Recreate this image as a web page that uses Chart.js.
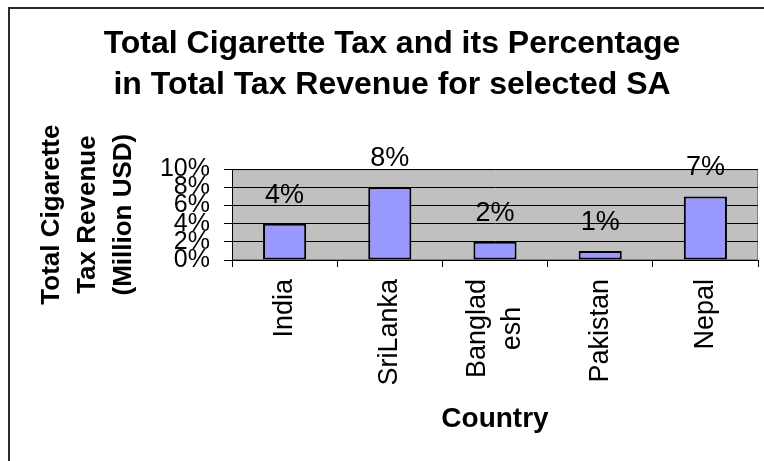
<!DOCTYPE html>
<html>
<head>
<meta charset="utf-8">
<script src="https://cdn.jsdelivr.net/npm/chart.js@4/dist/chart.umd.min.js"></script>
<style>
  html, body { margin: 0; padding: 0; background: #ffffff; overflow: hidden; }
  #wrap { position: relative; width: 764px; height: 461px; }
</style>
</head>
<body>
<div id="wrap"><canvas id="chart" width="764" height="461"></canvas></div>
<script>
// Chart data
const countries = ['India', 'SriLanka', ['Banglad', 'esh'], 'Pakistan', 'Nepal'];
const taxSharePct = [4, 8, 2, 1, 7];
const yTickValues = [0, 2, 4, 6, 8, 10];
const chartTitle = ['Total Cigarette Tax and its Percentage', 'in Total Tax Revenue for selected SA'];
const yAxisTitle = ['Total Cigarette', 'Tax Revenue', '(Million USD)'];
const xAxisTitle = 'Country';

const FONT = "'Liberation Sans', Arial, sans-serif";

// White page, outer frame and grey plot area behind the grid
const backdrop = {
  id: 'backdrop',
  beforeDraw(chart) {
    const { ctx, chartArea: a } = chart;
    ctx.save();
    ctx.fillStyle = '#ffffff';
    ctx.fillRect(0, 0, chart.width, chart.height);
    ctx.strokeStyle = '#2a2a2a';
    ctx.lineWidth = 2;
    ctx.beginPath();
    ctx.moveTo(9, chart.height);
    ctx.lineTo(9, 8);
    ctx.lineTo(chart.width, 8);
    ctx.stroke();
    ctx.fillStyle = '#c0c0c0';
    ctx.fillRect(a.left, a.top, a.right - a.left, a.bottom - a.top);
    ctx.strokeStyle = '#808080';
    ctx.lineWidth = 1;
    ctx.strokeRect(a.left + 0.5, a.top + 0.5, a.right - a.left - 1, a.bottom - a.top - 1);
    ctx.restore();
  }
};

// Two-line category labels: centre the line stack on its tick and
// centre the lines against each other
const stackedTickLabels = {
  id: 'stackedTickLabels',
  beforeDraw(chart) {
    const { ctx } = chart;
    chart.scales.x.getLabelItems().forEach(item => {
      if (!Array.isArray(item.label) || item.label.length < 2) return;
      const lh = item.font.lineHeight;
      ctx.save();
      ctx.font = item.font.string;
      const widest = Math.max(...item.label.map(s => ctx.measureText(s).width));
      ctx.restore();
      const t = item.options.translation;
      t[0] -= (item.label.length - 1) * lh / 2;
      t[1] += widest / 2;
      item.options.textAlign = 'center';
    });
  }
};

// Percentage labels above each bar
const valueLabels = {
  id: 'valueLabels',
  afterDatasetsDraw(chart) {
    const { ctx } = chart;
    const meta = chart.getDatasetMeta(0);
    ctx.save();
    ctx.font = '27px ' + FONT;
    ctx.fillStyle = '#000000';
    ctx.textAlign = 'center';
    ctx.textBaseline = 'alphabetic';
    meta.data.forEach((bar, i) => {
      ctx.fillText(chart.data.datasets[0].data[i] + '%', bar.x, bar.y - 21);
    });
    ctx.restore();
  }
};

new Chart(document.getElementById('chart'), {
  type: 'bar',
  data: {
    labels: countries,
    datasets: [{
      data: taxSharePct,
      backgroundColor: '#9999ff',
      borderColor: '#000000',
      borderWidth: 2,
      borderSkipped: false,
      barPercentage: 0.41,
      categoryPercentage: 1.0
    }]
  },
  options: {
    responsive: false,
    devicePixelRatio: 1,
    animation: false,
    layout: { padding: { left: 26, right: 6, top: 0, bottom: 0 } },
    plugins: {
      legend: { display: false },
      tooltip: { enabled: false },
      title: {
        display: true,
        text: chartTitle,
        color: '#000000',
        font: { family: FONT, size: 32, weight: 'bold', lineHeight: 1.3 },
        padding: { top: 23, bottom: 63 }
      }
    },
    scales: {
      x: {
        grid: {
          display: true,
          drawOnChartArea: false,
          drawTicks: true,
          tickLength: 7,
          tickColor: '#000000',
          color: '#000000'
        },
        border: { display: true, color: '#000000', width: 1 },
        ticks: {
          color: '#000000',
          font: { family: FONT, size: 27, lineHeight: 1.3 },
          minRotation: 90,
          maxRotation: 90,
          autoSkip: false,
          padding: 12
        },
        title: {
          display: true,
          text: xAxisTitle,
          color: '#000000',
          font: { family: FONT, size: 28, weight: 'bold', lineHeight: 1.2 },
          padding: { top: 0, bottom: 25 }
        },
        afterFit(scale) { scale.height = 461 - 260; }
      },
      y: {
        min: 0,
        max: 10,
        afterBuildTicks(scale) { scale.ticks = yTickValues.map(v => ({ value: v })); },
        grid: {
          color: '#000000',
          lineWidth: 1,
          drawTicks: true,
          tickLength: 8,
          tickColor: '#000000'
        },
        border: { display: true, color: '#000000', width: 1 },
        ticks: {
          color: '#000000',
          font: { family: FONT, size: 25 },
          autoSkip: false,
          padding: 14,
          callback: v => v + '%'
        },
        title: {
          display: true,
          text: yAxisTitle,
          color: '#000000',
          font: { family: FONT, size: 26, weight: 'bold', lineHeight: 1.385 },
          padding: { top: 8, bottom: 0 }
        },
        afterFit(scale) { scale.width = 232 - 26; }
      }
    }
  },
  plugins: [backdrop, stackedTickLabels, valueLabels]
});
</script>
</body>
</html>
